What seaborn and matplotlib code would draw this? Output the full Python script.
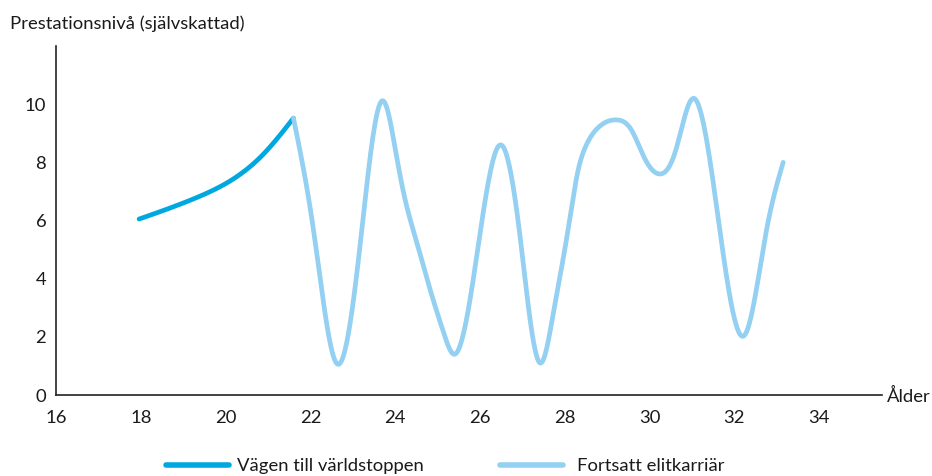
import numpy as np
import pandas as pd
import matplotlib
matplotlib.use("Agg")
import matplotlib.pyplot as plt
import seaborn as sns

# Self-rated performance level by age
age_rise = [17.96, 19.32, 20.89, 21.6]
level_rise = [6.05, 6.79, 8.28, 9.52]

age_career = [21.6, 22.07, 22.63, 23.17, 23.7, 24.03, 24.23, 24.51, 24.82,
              25.14, 25.39, 25.8, 26.49, 26.94, 27.18, 27.42, 27.75, 28.04,
              28.32, 28.48, 28.79, 29.22, 29.58, 29.85, 30.23, 30.6, 31.03,
              31.5, 32.23, 32.76, 33.15]
level_career = [9.52, 5.7, 1.07, 5.13, 10.12, 8.22, 6.74, 5.24, 3.64,
                2.15, 1.4, 3.6, 8.6, 5.5, 2.6, 1.1, 3.0, 5.36,
                7.77, 8.51, 9.2, 9.46, 9.09, 8.23, 7.6, 8.34, 10.2,
                7.3, 2.04, 5.7, 8.0]

series_names = ["Vägen till världstoppen", "Fortsatt elitkarriär"]
series_colors = ["#00a8e0", "#93d0f1"]
x_ticks = [16, 18, 20, 22, 24, 26, 28, 30, 32, 34]
y_ticks = [0, 2, 4, 6, 8, 10]
y_title = "Prestationsnivå (självskattad)"
x_title = "Ålder"


def smooth(x, y, n=40):
    """Natural cubic spline through the points, sampled densely for drawing."""
    x = np.asarray(x, float)
    y = np.asarray(y, float)
    k = len(x)
    h = np.diff(x)
    A = np.zeros((k, k))
    b = np.zeros(k)
    A[0, 0] = A[-1, -1] = 1.0
    for i in range(1, k - 1):
        A[i, i - 1] = h[i - 1]
        A[i, i] = 2 * (h[i - 1] + h[i])
        A[i, i + 1] = h[i]
        b[i] = 6 * ((y[i + 1] - y[i]) / h[i] - (y[i] - y[i - 1]) / h[i - 1])
    M = np.linalg.solve(A, b)
    xs, ys = [], []
    for i in range(k - 1):
        t = np.linspace(x[i], x[i + 1], n, endpoint=(i == k - 2))
        a = x[i + 1] - t
        c = t - x[i]
        s = (M[i] * a**3 + M[i + 1] * c**3) / (6 * h[i]) \
            + (y[i] / h[i] - M[i] * h[i] / 6) * a \
            + (y[i + 1] / h[i] - M[i + 1] * h[i] / 6) * c
        xs.append(t)
        ys.append(s)
    return np.concatenate(xs), np.concatenate(ys)


sns.set_theme(style="white")
plt.rcParams["font.family"] = ["Lato", "DejaVu Sans"]
text_color = "#1a1a1a"
fs = 13.3

fig = plt.figure(figsize=(9.32, 4.76), dpi=100)
ax = fig.add_axes([56 / 932, 81 / 476, 826 / 932, 349 / 476])

xr, yr = smooth(age_rise, level_rise)
xc, yc = smooth(age_career, level_career)
frame = pd.concat([
    pd.DataFrame({"age": xr, "level": yr, "series": series_names[0]}),
    pd.DataFrame({"age": xc, "level": yc, "series": series_names[1]}),
])

sns.lineplot(data=frame, x="age", y="level", hue="series", palette=series_colors,
             sort=False, estimator=None, linewidth=3.4, ax=ax, legend=False)

ax.set_xlim(16, 35.48)
ax.set_ylim(0, 12)
ax.set_xticks(x_ticks)
ax.set_yticks(y_ticks)
ax.tick_params(axis="both", length=0, labelsize=fs, labelcolor=text_color)
ax.tick_params(axis="x", pad=11)
ax.tick_params(axis="y", pad=7)
ax.set_xlabel("")
ax.set_ylabel("")
for side in ["top", "right"]:
    ax.spines[side].set_visible(False)
for side in ["left", "bottom"]:
    ax.spines[side].set_color("#222222")
    ax.spines[side].set_linewidth(1.2)

fig.text(10 / 932, 1 - 24 / 476, y_title, fontsize=fs, color=text_color,
         ha="left", va="center")
fig.text(887 / 932, 1 - 396 / 476, x_title, fontsize=fs, color=text_color,
         ha="left", va="center")

# One legend entry per series, placed side by side under the plot
legend_left = [166 / 932, 500 / 932]
text_pads = [0.42, 0.75]
for name, color, left, pad in zip(series_names, series_colors, legend_left, text_pads):
    handle = plt.Line2D([], [], color=color, linewidth=4)
    fig.legend([handle], [name], loc="center left", bbox_to_anchor=(left, 1 - 466 / 476),
               frameon=False, fontsize=fs, handlelength=63 / (fs * 100 / 72),
               handletextpad=pad, borderpad=0, borderaxespad=0, labelcolor=text_color)

fig.savefig("out.png", dpi=100)
